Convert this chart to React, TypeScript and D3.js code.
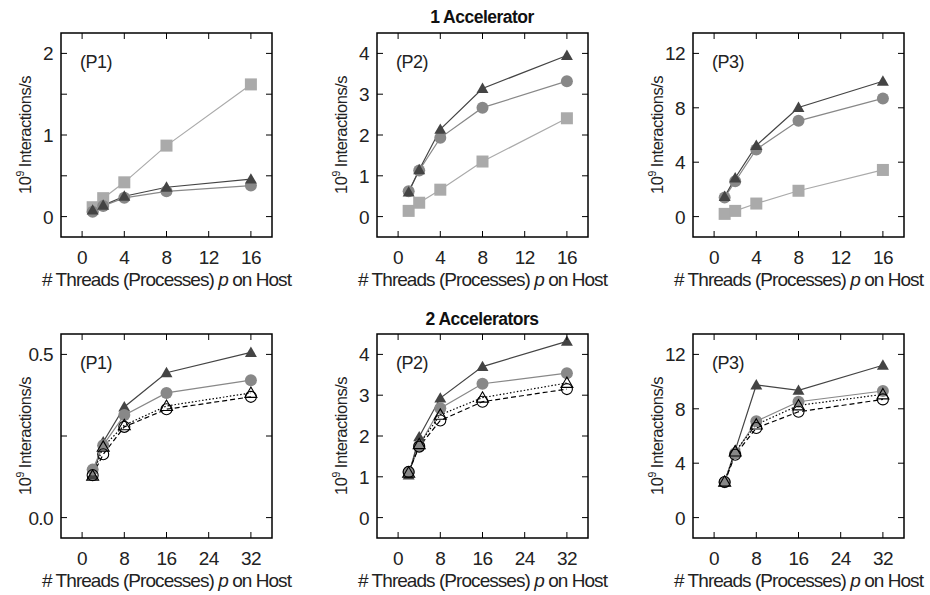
import React from "react";
import * as d3 from "d3";

// top row: 1 accelerator, p = 1..16
const xTop = [1, 2, 4, 8, 16];
const p1SquaresTop = [0.115, 0.226, 0.42, 0.87, 1.62];
const p1CirclesTop = [0.06, 0.13, 0.23, 0.31, 0.38];
const p1TrianglesTop = [0.08, 0.14, 0.25, 0.36, 0.46];
const p2SquaresTop = [0.14, 0.34, 0.66, 1.35, 2.41];
const p2CirclesTop = [0.62, 1.13, 1.93, 2.67, 3.32];
const p2TrianglesTop = [0.6, 1.15, 2.14, 3.14, 3.95];
const p3SquaresTop = [0.2, 0.42, 0.96, 1.9, 3.43];
const p3CirclesTop = [1.4, 2.6, 4.94, 7.04, 8.69];
const p3TrianglesTop = [1.48, 2.84, 5.23, 8.02, 9.95];

// bottom row: 2 accelerators, p = 2..32
const xBottom = [2, 4, 8, 16, 32];
const p1TrianglesBot = [0.13, 0.232, 0.339, 0.444, 0.506];
const p1CirclesBot = [0.147, 0.222, 0.314, 0.382, 0.421];
const p1OpenTriBot = [0.128, 0.217, 0.283, 0.342, 0.382];
const p1OpenCircBot = [0.13, 0.194, 0.278, 0.332, 0.37];
const p2TrianglesBot = [1.04, 1.98, 2.93, 3.7, 4.32];
const p2CirclesBot = [1.12, 1.76, 2.68, 3.28, 3.54];
const p2OpenTriBot = [1.1, 1.8, 2.52, 2.94, 3.3];
const p2OpenCircBot = [1.12, 1.74, 2.38, 2.84, 3.15];
const p3TrianglesBot = [2.64, 4.94, 9.75, 9.36, 11.2];
const p3CirclesBot = [2.6, 4.74, 7.09, 8.52, 9.31];
const p3OpenTriBot = [2.64, 4.86, 6.84, 8.25, 9.06];
const p3OpenCircBot = [2.62, 4.62, 6.59, 7.78, 8.69];

const xTicksTop = [0, 4, 8, 12, 16];
const xTicksBottom = [0, 8, 16, 24, 32];

const FONT = "'Liberation Sans', Arial, sans-serif";

type Series = {
  values: number[];
  marker: "square" | "circle" | "triangle";
  color: string;
  open?: boolean;
  dash?: string;
};

type PanelProps = {
  left: number;
  top: number;
  xs: number[];
  xDomain: [number, number];
  xTicks: number[];
  yDomain: [number, number];
  yTicks: number[];
  yLabels: number[];
  yFormat: (v: number) => string;
  label: string;
  series: Series[];
};

const W = 211;
const H = 204;

const triPath = d3.symbol(d3.symbolTriangle, 62)()!;

function Marker({ s, x, y }: { s: Series; x: number; y: number }) {
  const fill = s.open ? "none" : s.color;
  const stroke = s.open ? "#000" : "none";
  if (s.marker === "square")
    return <rect x={x - 6} y={y - 6} width={12} height={12} fill={fill} stroke={stroke} />;
  if (s.marker === "circle")
    return <circle cx={x} cy={y} r={s.open ? 5.5 : 6} fill={fill} stroke={stroke} strokeWidth={1.1} />;
  return <path d={triPath} transform={`translate(${x},${y + 1})`} fill={fill} stroke={stroke} strokeWidth={1.1} />;
}

function Panel(p: PanelProps) {
  const x = d3.scaleLinear().domain(p.xDomain).range([0, W]);
  const y = d3.scaleLinear().domain(p.yDomain).range([H, 0]);
  const line = d3
    .line<number>()
    .x((_, i) => x(p.xs[i]))
    .y((d) => y(d));
  const tl = 6;
  return (
    <g transform={`translate(${p.left},${p.top})`} fontFamily={FONT}>
      {p.series.map((s, k) => (
        <path key={k} d={line(s.values)!} fill="none" stroke={s.open ? "#000" : s.color} strokeWidth={1.2} strokeDasharray={s.dash} />
      ))}
      {p.series.map((s, k) => (
        <g key={k}>
          {s.values.map((v, i) => (
            <Marker key={i} s={s} x={x(p.xs[i])} y={y(v)} />
          ))}
        </g>
      ))}
      <rect x={0} y={0} width={W} height={H} fill="none" stroke="#000" strokeWidth={1.5} />
      {p.xTicks.map((t) => (
        <g key={t}>
          <line x1={x(t)} x2={x(t)} y1={H} y2={H - tl} stroke="#000" />
          <line x1={x(t)} x2={x(t)} y1={0} y2={tl} stroke="#000" />
          <text x={x(t)} y={H + 27} textAnchor="middle" fontSize={19} fill="#222" letterSpacing={-0.6}>
            {t}
          </text>
        </g>
      ))}
      {p.yTicks.map((t) => (
        <g key={t}>
          <line x1={0} x2={tl} y1={y(t)} y2={y(t)} stroke="#000" />
          <line x1={W} x2={W - tl} y1={y(t)} y2={y(t)} stroke="#000" />
        </g>
      ))}
      {p.yLabels.map((t) => (
        <text key={t} x={-8} y={y(t) + 7} textAnchor="end" fontSize={19} fill="#222" letterSpacing={-0.6}>
          {p.yFormat(t)}
        </text>
      ))}
      <text x={W / 2} y={H + 49} textAnchor="middle" fontSize={19} fill="#222" letterSpacing={-0.95}>
        # Threads (Processes) <tspan fontStyle="italic">p</tspan> on Host
      </text>
      <text transform={`translate(-30,${H / 2}) rotate(-90)`} textAnchor="middle" fontSize={16.5} fill="#222" letterSpacing={-0.5}>
        10<tspan fontSize={10.5} dy={-7}>9</tspan>
        <tspan dy={7}> Interactions/s</tspan>
      </text>
      <text x={19} y={35} fontSize={18} fill="#222" letterSpacing={-0.5}>
        {p.label}
      </text>
    </g>
  );
}

const sq = "#aaaaaa";
const ci = "#888888";
const tr = "#444444";

const topSeries = (a: number[], b: number[], c: number[]): Series[] => [
  { values: a, marker: "square", color: sq },
  { values: b, marker: "circle", color: ci },
  { values: c, marker: "triangle", color: tr },
];
const botSeries = (a: number[], b: number[], c: number[], d: number[]): Series[] => [
  { values: a, marker: "triangle", color: tr },
  { values: b, marker: "circle", color: ci },
  { values: c, marker: "triangle", color: "#000", open: true, dash: "1.5,2" },
  { values: d, marker: "circle", color: "#000", open: true, dash: "5,3" },
];

const fmtInt = (v: number) => String(v);
const fmt1 = (v: number) => v.toFixed(1);

export default function App() {
  const lefts = [61, 377, 693];
  const tTop = 33;
  const tBot = 334;
  return (
    <svg width={930} height={595} style={{ position: "absolute", left: 0, top: 0, display: "block" }}>
      <text x={482} y={23} textAnchor="middle" fontFamily={FONT} fontWeight="bold" fontSize={17.5} fill="#111" letterSpacing={-0.5}>
        1 Accelerator
      </text>
      <text x={482} y={325} textAnchor="middle" fontFamily={FONT} fontWeight="bold" fontSize={17.5} fill="#111" letterSpacing={-0.5}>
        2 Accelerators
      </text>
      <Panel left={lefts[0]} top={tTop} xs={xTop} xDomain={[-2, 18]} xTicks={xTicksTop}
        yDomain={[-0.25, 2.25]} yTicks={[0, 0.5, 1, 1.5, 2]} yLabels={[0, 1, 2]} yFormat={fmtInt}
        label="(P1)" series={topSeries(p1SquaresTop, p1CirclesTop, p1TrianglesTop)} />
      <Panel left={lefts[1]} top={tTop} xs={xTop} xDomain={[-2, 18]} xTicks={xTicksTop}
        yDomain={[-0.5, 4.5]} yTicks={[0, 1, 2, 3, 4]} yLabels={[0, 1, 2, 3, 4]} yFormat={fmtInt}
        label="(P2)" series={topSeries(p2SquaresTop, p2CirclesTop, p2TrianglesTop)} />
      <Panel left={lefts[2]} top={tTop} xs={xTop} xDomain={[-2, 18]} xTicks={xTicksTop}
        yDomain={[-1.5, 13.5]} yTicks={[0, 4, 8, 12]} yLabels={[0, 4, 8, 12]} yFormat={fmtInt}
        label="(P3)" series={topSeries(p3SquaresTop, p3CirclesTop, p3TrianglesTop)} />
      <Panel left={lefts[0]} top={tBot} xs={xBottom} xDomain={[-4, 36]} xTicks={xTicksBottom}
        yDomain={[-0.0625, 0.5625]} yTicks={[0, 0.25, 0.5]} yLabels={[0, 0.5]} yFormat={fmt1}
        label="(P1)" series={botSeries(p1TrianglesBot, p1CirclesBot, p1OpenTriBot, p1OpenCircBot)} />
      <Panel left={lefts[1]} top={tBot} xs={xBottom} xDomain={[-4, 36]} xTicks={xTicksBottom}
        yDomain={[-0.5, 4.5]} yTicks={[0, 1, 2, 3, 4]} yLabels={[0, 1, 2, 3, 4]} yFormat={fmtInt}
        label="(P2)" series={botSeries(p2TrianglesBot, p2CirclesBot, p2OpenTriBot, p2OpenCircBot)} />
      <Panel left={lefts[2]} top={tBot} xs={xBottom} xDomain={[-4, 36]} xTicks={xTicksBottom}
        yDomain={[-1.5, 13.5]} yTicks={[0, 4, 8, 12]} yLabels={[0, 4, 8, 12]} yFormat={fmtInt}
        label="(P3)" series={botSeries(p3TrianglesBot, p3CirclesBot, p3OpenTriBot, p3OpenCircBot)} />
    </svg>
  );
}
